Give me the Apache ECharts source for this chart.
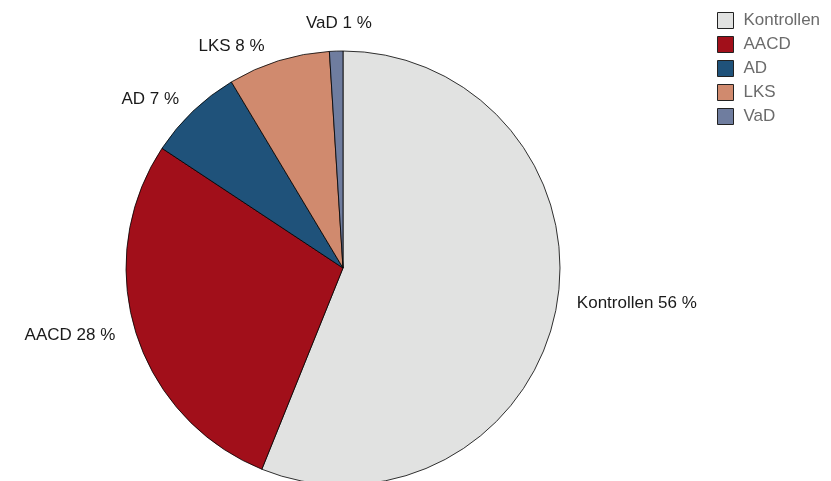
<!DOCTYPE html>
<html>
<head>
<meta charset="utf-8">
<script src="https://cdn.jsdelivr.net/npm/echarts@6/dist/echarts.min.js"></script>
<style>
  html, body { margin: 0; padding: 0; background: #fff; }
  #main { width: 831px; height: 481px; }
</style>
</head>
<body>
<div id="main"></div>
<script>
'use strict';
// Gruppen und Anteile (in %)
var categories = ['Kontrollen', 'AACD', 'AD', 'LKS', 'VaD'];
var shares = [56.1, 28.2, 7.1, 7.6, 1.0];
var colors = ['#e1e2e1', '#a10f1a', '#1f527a', '#d08a6e', '#6f7d9f'];

var pieData = [];
for (var i = 0; i < categories.length; i++) {
  pieData.push({
    name: categories[i],
    value: shares[i],
    itemStyle: { color: colors[i] }
  });
}

var chart = echarts.init(document.getElementById('main'));
chart.setOption({
  animation: false,
  color: colors,
  legend: {
    orient: 'vertical',
    left: 717,
    top: 12,
    padding: 0,
    icon: 'rect',
    itemWidth: 16,
    itemHeight: 16,
    itemGap: 7,
    selectedMode: false,
    itemStyle: { borderColor: '#222', borderWidth: 1 },
    textStyle: { fontFamily: 'Liberation Sans', fontSize: 17, color: '#6b6b6b', padding: [0, 0, 0, 5] },
    data: categories
  },
  series: [{
    type: 'pie',
    center: [343, 268],
    radius: 217,
    startAngle: 90,
    clockwise: true,
    avoidLabelOverlap: false,
    itemStyle: { borderColor: '#000', borderWidth: 0.8 },
    label: {
      show: true,
      position: 'outside',
      fontFamily: 'Liberation Sans',
      fontSize: 17,
      color: '#1a1a1a',
      formatter: function(p) {
        return p.name + ' ' + Math.round(p.percent) + ' %';
      }
    },
    labelLine: { show: false, length: 10, length2: 6 },
    // die kleinen Stücke oben: Beschriftung etwas verschieben
    labelLayout: function(p) {
      if (p.dataIndex === 4) {
        return { align: 'center', dx: 14, dy: -18 };
      }
      if (p.dataIndex === 3) {
        return { dx: 0, dy: -5 };
      }
      if (p.dataIndex === 2) {
        return { dx: 4, dy: -5 };
      }
      if (p.dataIndex === 0) {
        return { dy: -8 };
      }
      return {};
    },
    emphasis: { disabled: true },
    data: pieData
  }]
});
</script>
</body>
</html>
